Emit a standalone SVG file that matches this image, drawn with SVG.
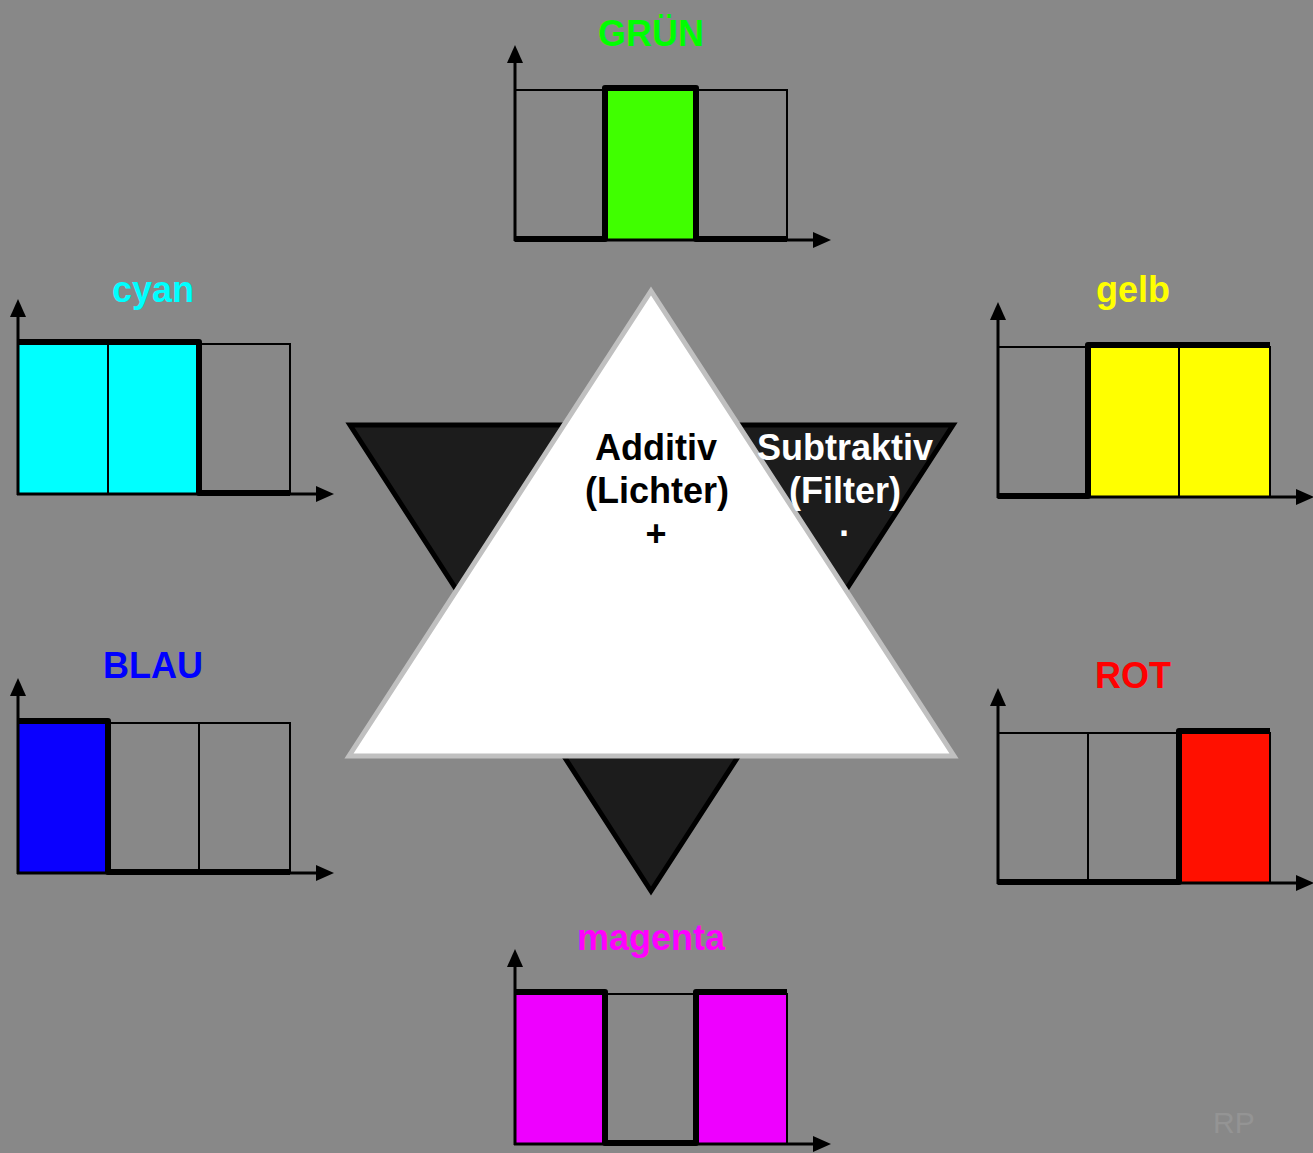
<svg xmlns="http://www.w3.org/2000/svg" width="1313" height="1153" viewBox="0 0 1313 1153">
<style>
.cell{fill:none;stroke:#000;stroke-width:2}
.spec{fill:none;stroke:#000;stroke-width:6;stroke-linejoin:round;stroke-linecap:butt}
.axis{fill:none;stroke:#000;stroke-width:3}
.lbl{font-family:"Liberation Sans",Arial,sans-serif;font-weight:bold;font-size:36px;text-anchor:middle}
.ctr{font-family:"Liberation Sans",Arial,sans-serif;font-weight:bold;font-size:36px;text-anchor:middle}
</style>
<defs>
<marker id="arr" viewBox="0 0 18 16" markerWidth="18" markerHeight="16" refX="1" refY="8" orient="auto" markerUnits="userSpaceOnUse">
<path d="M0,0 L18,8 L0,16 z" fill="#000"/>
</marker>
<g id="frame">
<rect class="cell" x="0" y="-150" width="272" height="150"/>
<line class="cell" x1="90" y1="-150" x2="90" y2="0"/>
<line class="cell" x1="181" y1="-150" x2="181" y2="0"/>
<line class="axis" x1="0" y1="1" x2="0" y2="-178" marker-end="url(#arr)"/>
<line class="axis" x1="-1" y1="0" x2="299" y2="0" marker-end="url(#arr)"/>
</g>
</defs>
<rect width="1313" height="1153" fill="#888888"/>

<g id="star">
<polygon points="350,425 953,425 651,891" fill="#1c1c1c" stroke="#000" stroke-width="5"/>
<polygon points="651,291 954,756 349,756" fill="#fff" stroke="#c0c0c0" stroke-width="5"/>
<text class="ctr" fill="#000"><tspan x="656" y="460">Additiv</tspan><tspan x="657" y="503">(Lichter)</tspan><tspan x="656" y="546">+</tspan></text>
<text class="ctr" fill="#fff"><tspan x="845" y="460">Subtraktiv</tspan><tspan x="845" y="503">(Filter)</tspan><tspan x="845" y="546">·</tspan></text>
</g>

<g id="chart-gruen" transform="translate(515,240)">
<rect x="90" y="-150" width="91" height="150" fill="#40ff00"/>
<use href="#frame"/>
<polyline class="spec" points="0,-1 90,-1 90,-152 181,-152 181,-1 272,-1"/>
<text class="lbl" x="136" y="-194" fill="#00ff00">GRÜN</text>
</g>

<g id="chart-cyan" transform="translate(18,494)">
<rect x="0" y="-150" width="181" height="150" fill="#00ffff"/>
<use href="#frame"/>
<polyline class="spec" points="0,-152 181,-152 181,-1 272,-1"/>
<text class="lbl" x="135" y="-192" fill="#00ffff">cyan</text>
</g>

<g id="chart-gelb" transform="translate(998,497)">
<rect x="90" y="-150" width="182" height="150" fill="#ffff00"/>
<use href="#frame"/>
<polyline class="spec" points="0,-1 90,-1 90,-152 272,-152"/>
<text class="lbl" x="135" y="-195" fill="#ffff00">gelb</text>
</g>

<g id="chart-blau" transform="translate(18,873)">
<rect x="0" y="-150" width="90" height="150" fill="#0a00ff"/>
<use href="#frame"/>
<polyline class="spec" points="0,-152 90,-152 90,-1 272,-1"/>
<text class="lbl" x="135" y="-195" fill="#0000ff">BLAU</text>
</g>

<g id="chart-rot" transform="translate(998,883)">
<rect x="181" y="-150" width="91" height="150" fill="#ff1000"/>
<use href="#frame"/>
<polyline class="spec" points="0,-1 181,-1 181,-152 272,-152"/>
<text class="lbl" x="135" y="-195" fill="#ff0000">ROT</text>
</g>

<g id="chart-magenta" transform="translate(515,1144)">
<rect x="0" y="-150" width="90" height="150" fill="#ee00ff"/>
<rect x="181" y="-150" width="91" height="150" fill="#ee00ff"/>
<use href="#frame"/>
<polyline class="spec" points="0,-152 90,-152 90,-1 181,-1 181,-152 272,-152"/>
<text class="lbl" x="136" y="-194" fill="#ff00ff">magenta</text>
</g>

<text id="sig" x="1213" y="1133" font-family="Liberation Sans, Arial, sans-serif" font-size="30" fill="#949494">RP</text>
</svg>
